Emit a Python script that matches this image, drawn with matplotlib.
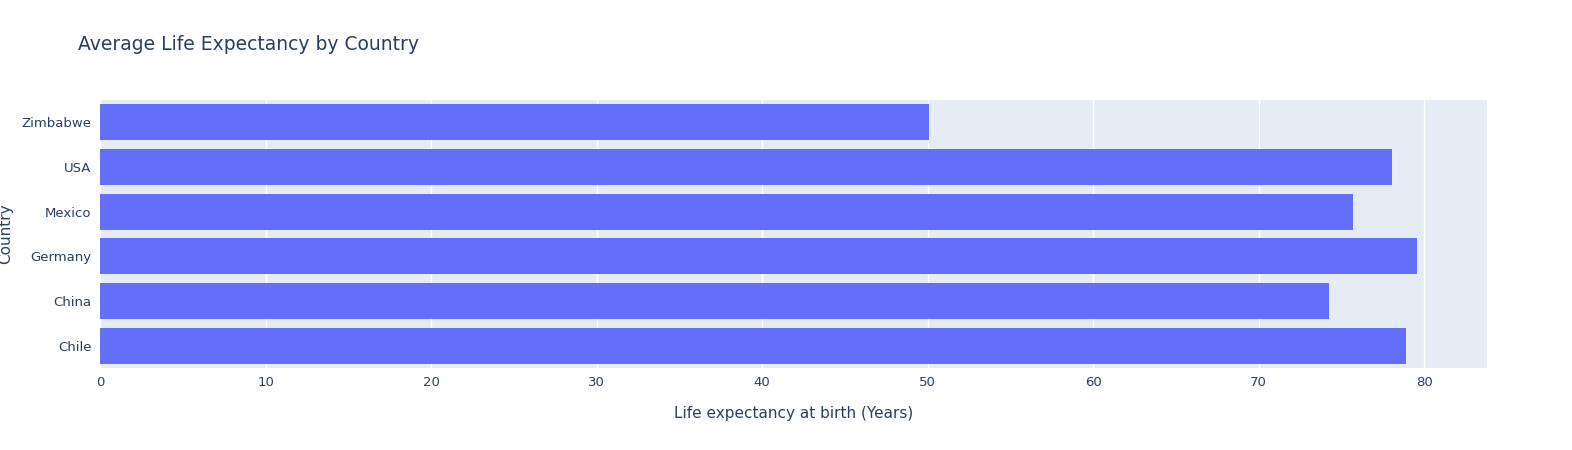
import matplotlib.pyplot as plt

countries = ["Chile", "China", "Germany", "Mexico", "USA", "Zimbabwe"]
life_exp = [78.9, 74.26, 79.6, 75.7, 78.07, 50.09]
xticks = [0, 10, 20, 30, 40, 50, 60, 70, 80]

W, H = 1572, 450
fig = plt.figure(figsize=(W/100, H/100), dpi=100)
ax = fig.add_axes([100/W, 1-368/H, (1487-100)/W, (368-100)/H])
ax.set_facecolor("#E5ECF6")
ax.barh(countries, life_exp, height=0.8, color="#636EFA", zorder=3)
ax.set_xlim(0, 83.8)
ax.set_ylim(-0.5, 5.5)
ax.set_xticks(xticks)
ax.grid(axis="x", color="white", linewidth=1, zorder=0)
for s in ax.spines.values():
    s.set_visible(False)
ax.tick_params(length=0, labelsize=9.5, colors="#2a3f5f", pad=6)
ax.set_xlabel("Life expectancy at birth (Years)", fontsize=11, color="#2a3f5f", labelpad=12)
ax.set_ylabel("Country", fontsize=11, color="#2a3f5f", labelpad=6)
fig.text(78/W, 1-44/H, "Average Life Expectancy by Country", fontsize=13.5, color="#2a3f5f", va="center")
fig.savefig("out.png", dpi=100)
